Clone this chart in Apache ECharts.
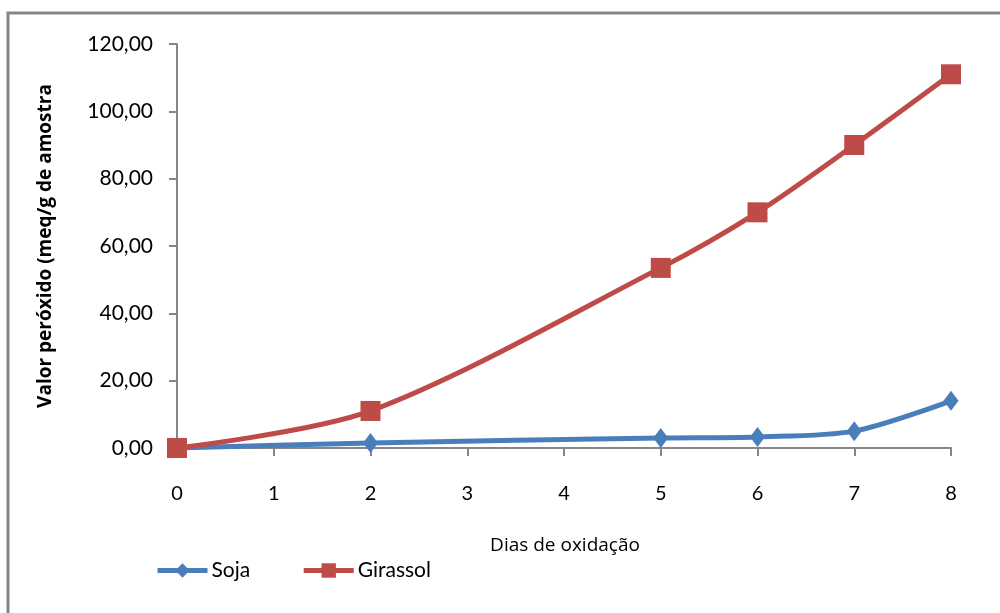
<!DOCTYPE html>
<html>
<head>
<meta charset="utf-8">
<script src="https://cdn.jsdelivr.net/npm/echarts@6/dist/echarts.min.js"></script>
<style>
  html, body { margin: 0; padding: 0; background: #fff; }
  #chart { width: 1000px; height: 613px; }
</style>
</head>
<body>
<div id="chart"></div>
<script>
// Days of oxidation and peroxide value (meq/g) per oil
const days = [0, 2, 5, 6, 7, 8];
const soja = [0.0, 1.5, 3.0, 3.3, 5.0, 14.0];
const girassol = [0.0, 11.0, 53.5, 70.0, 90.0, 111.0];
const yTicks = { min: 0, max: 120, step: 20 };
const xTicks = { min: 0, max: 8, step: 1 };

const pairs = (xs, ys) => xs.map((x, i) => [x, ys[i]]);
const axisGray = '#868686';
const font = 'Lato, "Open Sans", sans-serif';
const titleFont = '"Open Sans", Lato, sans-serif';

const chart = echarts.init(document.getElementById('chart'), null, { renderer: 'canvas' });
chart.setOption({
  animation: false,
  backgroundColor: '#fff',
  graphic: [{
    type: 'rect',
    shape: { x: 8, y: 13, width: 1100, height: 700 },
    style: { fill: 'none', stroke: axisGray, lineWidth: 3 },
    silent: true
  }, {
    type: 'text',
    x: 565, y: 546,
    style: {
      text: 'Dias de oxidação', font: '19px ' + titleFont, fill: '#000',
      textAlign: 'center', textVerticalAlign: 'middle'
    }
  }],
  grid: { left: 177, right: 49, top: 44, bottom: 165 },
  legend: {
    left: 150, top: 555,
    itemWidth: 50, itemHeight: 18, itemGap: 51,
    lineStyle: { width: 5 },
    textStyle: { fontFamily: font, fontSize: 21, color: '#000', padding: [0, 0, 0, -1] },
    data: ['Soja', 'Girassol']
  },
  xAxis: {
    type: 'value',
    min: xTicks.min, max: xTicks.max, interval: xTicks.step,
    axisLine: { lineStyle: { color: axisGray, width: 2 } },
    axisTick: { show: true, length: 8, lineStyle: { color: axisGray, width: 2 } },
    axisLabel: { color: '#000', fontFamily: font, fontSize: 20, margin: 36 },
    splitLine: { show: false }
  },
  yAxis: {
    type: 'value',
    min: yTicks.min, max: yTicks.max, interval: yTicks.step,
    name: 'Valor peróxido (meq/g de amostra',
    nameLocation: 'middle', nameGap: 122, nameRotate: 90,
    nameTextStyle: { fontFamily: titleFont, fontSize: 19, fontWeight: 'bold', color: '#000' },
    axisLine: { show: true, lineStyle: { color: axisGray, width: 2 } },
    axisTick: { show: true, length: 8, lineStyle: { color: axisGray, width: 2 } },
    axisLabel: {
      color: '#000', fontFamily: font, fontSize: 21, margin: 24,
      formatter: v => v.toFixed(2).replace('.', ',')
    },
    splitLine: { show: false }
  },
  series: [{
    name: 'Soja', type: 'line', smooth: 0.3,
    data: pairs(days, soja),
    symbol: 'diamond', symbolSize: [15, 20],
    itemStyle: { color: '#4a7ebb' },
    lineStyle: { color: '#4a7ebb', width: 5 }
  }, {
    name: 'Girassol', type: 'line', smooth: 0.3,
    data: pairs(days, girassol),
    symbol: 'rect', symbolSize: 20,
    itemStyle: { color: '#be4b48' },
    lineStyle: { color: '#be4b48', width: 5 }
  }]
});
</script>
</body>
</html>
